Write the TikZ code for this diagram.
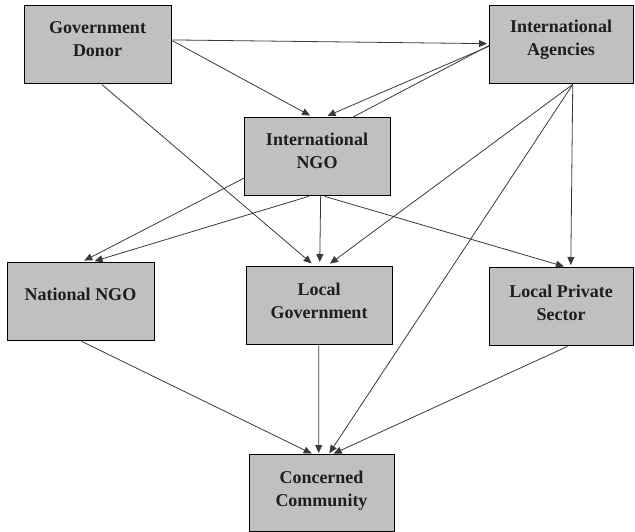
\documentclass[tikz,border=0pt]{standalone}
\usepackage{fontspec}
\setmainfont{Liberation Serif}
\usetikzlibrary{arrows.meta,calc}
\definecolor{boxgrey}{HTML}{C0C0C0}
\definecolor{linegrey}{HTML}{3A3A3A}
\definecolor{textdark}{HTML}{1E1E1E}
\tikzset{
 box/.style={draw=black, line width=1.4pt, fill=boxgrey, rectangle, inner sep=0pt, anchor=north west},
 lbl/.style={font=\bfseries\fontsize{18}{23}\selectfont, align=center, inner sep=0pt, text=textdark},
 conn/.style={draw=linegrey, line width=0.8pt, -{Triangle[length=8pt,width=7pt]}, shorten >=2pt},
 plainline/.style={draw=linegrey, line width=0.8pt}
}
\begin{document}
\begin{tikzpicture}[x=1pt,y=-1pt]
\useasboundingbox (0,0) rectangle (635,532);
% boxes
\node[box, minimum width=147pt, minimum height=78pt] (gd) at (24,5) {};
\node[box, minimum width=144pt, minimum height=78pt] (ia) at (489,5) {};
\node[box, minimum width=146pt, minimum height=78pt] (ingo) at (244,117) {};
\node[box, minimum width=147pt, minimum height=78pt] (nat) at (7,262) {};
\node[box, minimum width=146pt, minimum height=78pt] (lg) at (246,266) {};
\node[box, minimum width=144pt, minimum height=78pt] (lps) at (489,267) {};
\node[box, minimum width=145pt, minimum height=77pt] (cc) at (249,454) {};
% labels
\node[lbl] (gdt) at (97.5,39.5) {Government\\Donor};
\node[lbl] (iat) at (561,39.5) {International\\Agencies};
\node[lbl] (ingot) at (317,151) {International\\NGO};
\node[lbl] (natt) at (80.5,294) {National NGO};
\node[lbl] (lgt) at (319,300.5) {Local\\Government};
\node[lbl] (lpst) at (561,302.5) {Local Private\\Sector};
\node[lbl] (cct) at (321.5,490.5) {Concerned\\Community};
% connectors
\draw[conn] ($(gd.north east)!0.44!(gd.south east)$) -- ($(ia.north west)!0.487!(ia.south west)$);
\draw[conn, shorten >=3pt] ($(gd.north east)!0.45!(gd.south east)$) -- ($(ingo.north west)!0.466!(ingo.north east)$);
\draw[conn, shorten >=3pt] ($(ia.north west)!0.52!(ia.south west)$) -- ($(ingo.north west)!0.548!(ingo.north east)$);
\draw[plainline] ($(ingo.north west)!0.74!(ingo.north east)$) -- ($(ia.north west)!0.51!(ia.south west)$);
\draw[conn, shorten >=4pt] ($(ia.south west)!0.576!(ia.south east)$) -- ($(lg.north west)!0.548!(lg.north east)$);
\draw[conn, shorten >=1pt] ($(ia.south west)!0.576!(ia.south east)$) -- ($(cc.north west)!0.545!(cc.north east)$);
\draw[conn, shorten >=2pt] ($(ia.south west)!0.576!(ia.south east)$) -- ($(lps.north west)!0.5625!(lps.north east)$);
\draw[conn, shorten >=3pt] ($(ingo.north west)!0.77!(ingo.south west)$) -- ($(nat.north west)!0.503!(nat.north east)$);
\draw[conn, shorten >=3pt] ($(ingo.south west)!0.438!(ingo.south east)$) -- ($(nat.north west)!0.571!(nat.north east)$);
\draw[conn, shorten >=4pt] ($(gd.south west)!0.524!(gd.south east)$) -- ($(lg.north west)!0.466!(lg.north east)$);
\draw[conn, shorten >=4pt] ($(ingo.south west)!0.52!(ingo.south east)$) -- ($(lg.north west)!0.5!(lg.north east)$);
\draw[conn, shorten >=2pt] ($(ingo.south west)!0.548!(ingo.south east)$) -- ($(lps.north west)!0.528!(lps.north east)$);
\draw[conn, shorten >=1pt] ($(nat.south west)!0.503!(nat.south east)$) -- ($(cc.north west)!0.434!(cc.north east)$);
\draw[conn, shorten >=1pt] ($(lg.south west)!0.493!(lg.south east)$) -- ($(cc.north west)!0.476!(cc.north east)$);
\draw[conn, shorten >=1pt] ($(lps.south west)!0.54!(lps.south east)$) -- ($(cc.north west)!0.572!(cc.north east)$);
\end{tikzpicture}
\end{document}
